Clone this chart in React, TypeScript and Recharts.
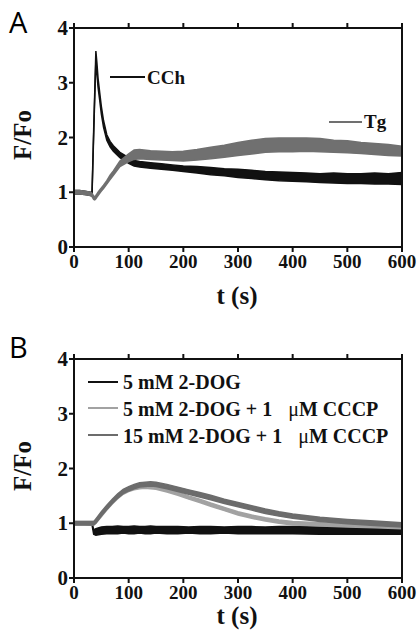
import * as Recharts from 'recharts';

const ComposedChart = Recharts.ComposedChart as unknown as React.FC<any>;
const Area = Recharts.Area as unknown as React.FC<any>;
const XAxis = Recharts.XAxis as unknown as React.FC<any>;
const YAxis = Recharts.YAxis as unknown as React.FC<any>;

// axis ticks
const X_TICKS = [0, 100, 200, 300, 400, 500, 600];
const Y_TICKS = [0, 1, 2, 3, 4];

// panel A: time (s) and the low/high edges of each noisy trace (F/Fo)
const TIME_A = [0, 10, 20, 30, 33, 36, 38, 40, 42, 44, 47, 50, 54, 60, 66, 72, 84, 100, 110, 120, 140, 160, 180, 200, 225, 250, 275, 300, 325, 350, 375, 400, 425, 450, 475, 500, 525, 550, 575, 600];
const CCH_LO = [0.97, 0.97, 0.96, 0.94, 0.96, 2.05, 2.75, 3.4, 3.15, 2.92, 2.68, 2.43, 2.19, 1.95, 1.83, 1.75, 1.63, 1.53, 1.48, 1.46, 1.44, 1.42, 1.4, 1.38, 1.35, 1.32, 1.3, 1.27, 1.25, 1.23, 1.21, 1.2, 1.19, 1.18, 1.17, 1.16, 1.16, 1.15, 1.15, 1.14];
const CCH_HI = [1.03, 1.03, 1.02, 1.0, 1.0, 2.15, 2.85, 3.58, 3.35, 3.08, 2.82, 2.57, 2.31, 2.05, 1.93, 1.85, 1.73, 1.63, 1.58, 1.56, 1.54, 1.52, 1.5, 1.48, 1.47, 1.45, 1.43, 1.42, 1.4, 1.38, 1.37, 1.36, 1.35, 1.34, 1.35, 1.34, 1.34, 1.35, 1.34, 1.36];
const TG_LO = [0.97, 0.97, 0.96, 0.94, 0.92, 0.87, 0.86, 0.88, 0.91, 0.94, 0.98, 1.02, 1.07, 1.15, 1.23, 1.31, 1.47, 1.56, 1.6, 1.61, 1.6, 1.59, 1.58, 1.57, 1.59, 1.61, 1.64, 1.67, 1.7, 1.73, 1.74, 1.74, 1.75, 1.74, 1.73, 1.72, 1.71, 1.69, 1.67, 1.66];
const TG_HI = [1.03, 1.03, 1.02, 1.0, 0.98, 0.93, 0.92, 0.94, 0.97, 1.0, 1.04, 1.08, 1.13, 1.21, 1.31, 1.39, 1.57, 1.7, 1.77, 1.78, 1.76, 1.75, 1.74, 1.75, 1.78, 1.82, 1.86, 1.91, 1.95, 1.98, 1.99, 1.99, 1.99, 1.98, 1.95, 1.94, 1.91, 1.89, 1.87, 1.84];

// panel B
const TIME_B = [0, 20, 33, 36, 40, 50, 60, 70, 80, 90, 100, 110, 120, 130, 140, 150, 170, 190, 210, 230, 250, 275, 300, 325, 350, 375, 400, 450, 500, 550, 600];
const DOG5_LO = [0.98, 0.98, 0.97, 0.8, 0.78, 0.8, 0.81, 0.81, 0.81, 0.82, 0.81, 0.81, 0.82, 0.81, 0.81, 0.82, 0.81, 0.81, 0.82, 0.81, 0.81, 0.82, 0.81, 0.81, 0.81, 0.81, 0.81, 0.8, 0.8, 0.8, 0.8];
const DOG5_HI = [1.02, 1.02, 1.01, 0.88, 0.9, 0.93, 0.94, 0.94, 0.95, 0.94, 0.94, 0.95, 0.94, 0.94, 0.95, 0.94, 0.94, 0.94, 0.93, 0.94, 0.94, 0.93, 0.94, 0.94, 0.93, 0.94, 0.94, 0.93, 0.93, 0.92, 0.92];
const DOG5_CCCP_LO = [0.97, 0.97, 0.97, 0.97, 1.0, 1.12, 1.24, 1.35, 1.45, 1.53, 1.58, 1.61, 1.63, 1.64, 1.63, 1.62, 1.57, 1.51, 1.44, 1.38, 1.31, 1.23, 1.15, 1.09, 1.04, 1.0, 0.97, 0.95, 0.93, 0.92, 0.9];
const DOG5_CCCP_HI = [1.03, 1.03, 1.03, 1.03, 1.06, 1.18, 1.3, 1.41, 1.51, 1.59, 1.64, 1.67, 1.69, 1.7, 1.69, 1.68, 1.63, 1.57, 1.5, 1.44, 1.37, 1.29, 1.21, 1.15, 1.1, 1.06, 1.03, 1.01, 0.99, 0.98, 0.96];
const DOG15_CCCP_LO = [0.97, 0.97, 0.97, 0.97, 1.0, 1.13, 1.25, 1.36, 1.46, 1.54, 1.59, 1.63, 1.66, 1.67, 1.68, 1.67, 1.63, 1.58, 1.53, 1.48, 1.43, 1.36, 1.3, 1.24, 1.18, 1.13, 1.09, 1.03, 0.99, 0.96, 0.93];
const DOG15_CCCP_HI = [1.03, 1.03, 1.03, 1.03, 1.08, 1.21, 1.33, 1.44, 1.54, 1.62, 1.67, 1.71, 1.74, 1.75, 1.76, 1.75, 1.71, 1.66, 1.61, 1.56, 1.51, 1.44, 1.38, 1.32, 1.26, 1.21, 1.17, 1.11, 1.07, 1.04, 1.01];

const dataA = TIME_A.map((t, i) => ({ t, cch: [CCH_LO[i], CCH_HI[i]], tg: [TG_LO[i], TG_HI[i]] }));
const dataB = TIME_B.map((t, i) => ({
  t,
  dog5: [DOG5_LO[i], DOG5_HI[i]],
  dog5cccp: [DOG5_CCCP_LO[i], DOG5_CCCP_HI[i]],
  dog15cccp: [DOG15_CCCP_LO[i], DOG15_CCCP_HI[i]],
}));

const SERIF = '"Liberation Serif", "Times New Roman", serif';
const INK = '#111';
const axisLine = { stroke: INK, strokeWidth: 2 };
const blank = () => '';

// tick labels drawn by hand so the serif face sticks
const XTick = ({ x, y, payload }: any) => (
  <text x={x} y={y + 14} textAnchor="middle" fontSize={19} fontFamily={SERIF} fontWeight={700} fill={INK}>
    {payload.value}
  </text>
);
const YTick = ({ x, y, payload }: any) => (
  <text x={x + 1} y={y + 7} textAnchor="end" fontSize={21} fontFamily={SERIF} fontWeight={700} fill={INK}>
    {payload.value}
  </text>
);

const Panel = ({ data, series }: { data: any[]; series: { key: string; color: string }[] }) => (
  <ComposedChart width={419} height={320} data={data} margin={{ top: 20, right: 9, bottom: 43, left: 14 }}>
    <XAxis
      dataKey="t"
      type="number"
      domain={[0, 600]}
      ticks={X_TICKS}
      height={30}
      tickSize={5}
      tick={<XTick />}
      axisLine={axisLine}
      tickLine={axisLine}
      interval={0}
    />
    <XAxis
      xAxisId="top"
      orientation="top"
      dataKey="t"
      type="number"
      domain={[0, 600]}
      ticks={X_TICKS}
      height={8}
      tickSize={5}
      tickFormatter={blank}
      axisLine={axisLine}
      tickLine={axisLine}
    />
    <YAxis
      type="number"
      domain={[0, 4]}
      ticks={Y_TICKS}
      width={60}
      tickSize={5}
      tick={<YTick />}
      axisLine={axisLine}
      tickLine={axisLine}
      interval={0}
    />
    <YAxis
      yAxisId="right"
      orientation="right"
      type="number"
      domain={[0, 4]}
      ticks={Y_TICKS}
      width={8}
      tickSize={5}
      tickFormatter={blank}
      axisLine={axisLine}
      tickLine={axisLine}
    />
    {series.map((s) => (
      <Area
        key={s.key}
        dataKey={s.key}
        type="linear"
        stroke={s.color}
        strokeWidth={1.5}
        fill={s.color}
        fillOpacity={1}
        dot={false}
        activeDot={false}
        isAnimationActive={false}
      />
    ))}
  </ComposedChart>
);

const labelStyle = { fontFamily: SERIF, fontWeight: 700, fill: INK } as const;

export default function App() {
  return (
    <div style={{ position: 'absolute', left: 0, top: 0, width: 419, height: 641, background: '#fff' }}>
      <div style={{ position: 'absolute', left: 0, top: 0 }}>
        <Panel data={dataA} series={[{ key: 'cch', color: INK }, { key: 'tg', color: '#707070' }]} />
      </div>
      <div style={{ position: 'absolute', left: 0, top: 331 }}>
        <Panel
          data={dataB}
          series={[
            { key: 'dog5', color: INK },
            { key: 'dog5cccp', color: '#a2a2a2' },
            { key: 'dog15cccp', color: '#6c6c6c' },
          ]}
        />
      </div>
      <svg width={419} height={641} style={{ position: 'absolute', left: 0, top: 0, pointerEvents: 'none' }}>
        {/* panel A labels */}
        <text x={9} y={33} fontSize={29} fontFamily='"Open Sans", sans-serif'>A</text>
        <text transform="translate(31,135) rotate(-90)" textAnchor="middle" fontSize={25} {...labelStyle}>F/Fo</text>
        <text x={237} y={304} textAnchor="middle" fontSize={25} {...labelStyle}>t (s)</text>
        <line x1={110} y1={77} x2={145} y2={77} stroke={INK} strokeWidth={2} />
        <text x={147} y={84} fontSize={19} {...labelStyle}>CCh</text>
        <line x1={329} y1={122} x2={362} y2={122} stroke="#707070" strokeWidth={2} />
        <text x={364} y={128} fontSize={19} {...labelStyle}>Tg</text>

        {/* panel B labels */}
        <text x={9} y={358} fontSize={29} fontFamily='"Open Sans", sans-serif'>B</text>
        <text transform="translate(31,466) rotate(-90)" textAnchor="middle" fontSize={25} {...labelStyle}>F/Fo</text>
        <text x={237} y={624} textAnchor="middle" fontSize={25} {...labelStyle}>t (s)</text>
        <line x1={88} y1={382} x2={118} y2={382} stroke={INK} strokeWidth={2} />
        <text x={123} y={389} fontSize={20} {...labelStyle}>5 mM 2-DOG</text>
        <line x1={88} y1={408} x2={118} y2={408} stroke="#a2a2a2" strokeWidth={2} />
        <text x={123} y={416} fontSize={20} {...labelStyle}>
          5 mM 2-DOG + 1
          <tspan dx={16} fontWeight={400}>μ</tspan>
          <tspan>M CCCP</tspan>
        </text>
        <line x1={88} y1={435} x2={118} y2={435} stroke="#6c6c6c" strokeWidth={2} />
        <text x={123} y={443} fontSize={20} {...labelStyle}>
          15 mM 2-DOG + 1
          <tspan dx={16} fontWeight={400}>μ</tspan>
          <tspan>M CCCP</tspan>
        </text>
      </svg>
    </div>
  );
}
